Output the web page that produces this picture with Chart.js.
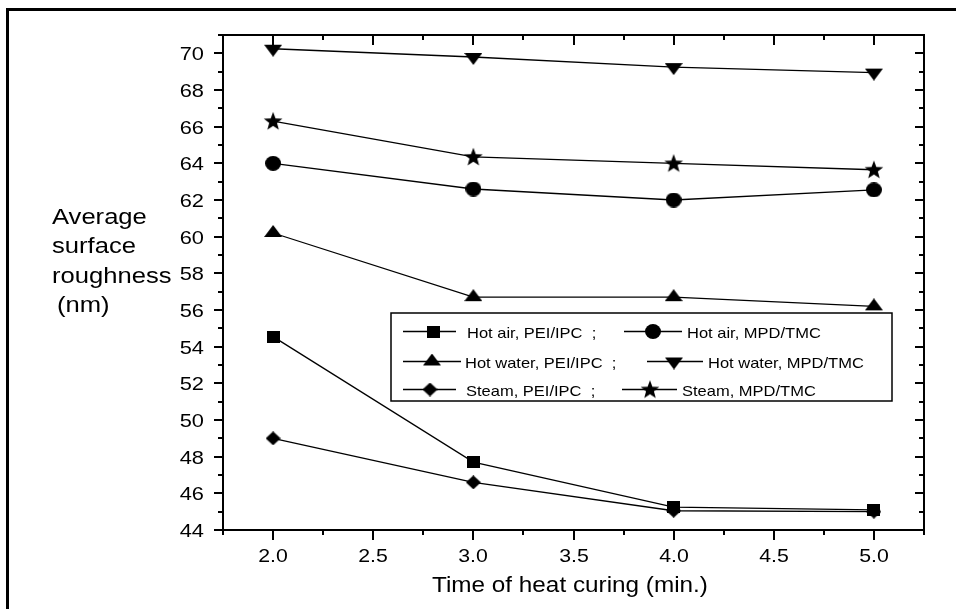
<!DOCTYPE html>
<html>
<head>
<meta charset="utf-8">
<title>Average surface roughness vs. time of heat curing</title>
<script src="https://cdn.jsdelivr.net/npm/chart.js@4.4.1/dist/chart.umd.min.js"></script>
<style>
  html, body { margin: 0; padding: 0; background: #fff; }
  canvas { display: block; }
</style>
</head>
<body>
<canvas id="roughnessChart" width="956" height="609"></canvas>
<script>
// curing time (min.) and roughness (nm) per membrane / curing method
const curingTimes = [2.0, 3.0, 4.0, 5.0];
const hotAirPEI = [54.55, 47.7, 45.25, 45.1];
const hotAirMPD = [64.0, 62.6, 62.0, 62.55];
const hotWaterPEI = [60.2, 56.7, 56.7, 56.2];
const hotWaterMPD = [70.25, 69.8, 69.25, 68.95];
const steamPEI = [49.0, 46.6, 45.05, 45.0];
const steamMPD = [66.3, 64.35, 64.0, 63.65];

const seriesNames = ['Hot air, PEI/IPC', 'Hot air, MPD/TMC', 'Hot water, PEI/IPC',
    'Hot water, MPD/TMC', 'Steam, PEI/IPC', 'Steam, MPD/TMC'];

const xTicks = [2.0, 2.5, 3.0, 3.5, 4.0, 4.5, 5.0];
const xMinorTicks = [1.75, 2.25, 2.75, 3.25, 3.75, 4.25, 4.75, 5.25];
const yTicks = [44, 46, 48, 50, 52, 54, 56, 58, 60, 62, 64, 66, 68, 70];
const yMinorTicks = [45, 47, 49, 51, 53, 55, 57, 59, 61, 63, 65, 67, 69, 71];

const xTitle = 'Time of heat curing (min.)';
const yTitleLines = ['Average', 'surface', 'roughness', '(nm)'];

const FONT = '"Liberation Sans", Arial, Helvetica, sans-serif';

// filled black symbols, centred on the data point
function makeMarker(shape) {
    const c = document.createElement('canvas');
    const sizes = {
        square: [13, 12], circle: [16, 15], triUp: [18, 16],
        triDown: [18, 16], diamond: [15, 14], star: [20, 20]
    };
    c.width = sizes[shape][0];
    c.height = sizes[shape][1];
    const g = c.getContext('2d');
    g.fillStyle = '#000';
    g.beginPath();
    if (shape === 'square') {
        g.rect(0, 0, 13, 12);
    } else if (shape === 'circle') {
        g.ellipse(8, 7.5, 8, 7.5, 0, 0, Math.PI * 2);
    } else if (shape === 'triUp') {
        // centroid sits at the canvas centre
        g.moveTo(0, 12); g.lineTo(9, 0); g.lineTo(18, 12);
    } else if (shape === 'triDown') {
        g.moveTo(0, 4); g.lineTo(18, 4); g.lineTo(9, 16);
    } else if (shape === 'diamond') {
        g.moveTo(7.5, 0); g.lineTo(15, 7); g.lineTo(7.5, 14); g.lineTo(0, 7);
    } else if (shape === 'star') {
        const R = 9.8, r = 4.1;
        for (let i = 0; i < 10; i++) {
            const rad = i % 2 === 0 ? R : r;
            const ang = -Math.PI / 2 + i * Math.PI / 5;
            const px = 10 + rad * Math.cos(ang);
            const py = 10.6 + rad * Math.sin(ang);
            if (i === 0) g.moveTo(px, py); else g.lineTo(px, py);
        }
    }
    g.closePath();
    g.fill();
    return c;
}

const markers = {};
['square', 'circle', 'triUp', 'triDown', 'diamond', 'star'].forEach(function (s) {
    markers[s] = makeMarker(s);
});

const seriesList = [
    { name: seriesNames[0], values: hotAirPEI, marker: 'square' },
    { name: seriesNames[1], values: hotAirMPD, marker: 'circle' },
    { name: seriesNames[2], values: hotWaterPEI, marker: 'triUp' },
    { name: seriesNames[3], values: hotWaterMPD, marker: 'triDown' },
    { name: seriesNames[4], values: steamPEI, marker: 'diamond' },
    { name: seriesNames[5], values: steamMPD, marker: 'star' }
];

// text is slightly wider than the font's own proportions
function stretchText(ctx, text, x, y, size, align, sx) {
    ctx.save();
    ctx.font = size + 'px ' + FONT;
    ctx.textAlign = align;
    ctx.textBaseline = 'alphabetic';
    ctx.fillStyle = '#000';
    ctx.translate(x, y);
    ctx.scale(sx, 1);
    ctx.fillText(text, 0, 0);
    ctx.restore();
}

function line(ctx, x0, y0, x1, y1) {
    ctx.beginPath();
    ctx.moveTo(x0, y0);
    ctx.lineTo(x1, y1);
    ctx.stroke();
}

const axesFrame = {
    id: 'axesFrame',
    afterDraw(chart) {
        const { ctx, chartArea: a, scales: { x, y } } = chart;
        ctx.save();
        ctx.strokeStyle = '#000';

        // outer figure frame
        ctx.lineWidth = 3;
        ctx.beginPath();
        ctx.moveTo(7.5, chart.height);
        ctx.lineTo(7.5, 9.5);
        ctx.lineTo(chart.width, 9.5);
        ctx.stroke();

        // axis box
        ctx.lineWidth = 2;
        ctx.strokeRect(a.left, a.top, a.right - a.left, a.bottom - a.top);

        // bottom ticks point out, top ticks point in
        xTicks.forEach(function (v) {
            const px = Math.round(x.getPixelForValue(v));
            line(ctx, px, a.bottom, px, a.bottom + 10);
            line(ctx, px, a.top, px, a.top + 10);
            stretchText(ctx, v.toFixed(1), px, a.bottom + 32, 18.5, 'center', 1.15);
        });
        xMinorTicks.forEach(function (v) {
            const px = Math.round(x.getPixelForValue(v));
            line(ctx, px, a.bottom, px, a.bottom + 5);
            line(ctx, px, a.top, px, a.top + 5);
        });

        // left ticks point out, right ticks point in
        yTicks.forEach(function (v) {
            const py = Math.round(y.getPixelForValue(v));
            line(ctx, a.left - 9, py, a.left, py);
            line(ctx, a.right - 9, py, a.right, py);
            stretchText(ctx, String(v), a.left - 19, py + 6.7, 18.5, 'right', 1.18);
        });
        yMinorTicks.forEach(function (v) {
            const py = Math.round(y.getPixelForValue(v));
            line(ctx, a.left - 5, py, a.left, py);
            line(ctx, a.right - 5, py, a.right, py);
        });

        // axis titles
        stretchText(ctx, xTitle, 432, 592, 21.5, 'left', 1.13);
        const titleX = [52, 52, 52, 57];
        const titleY = [223.5, 253, 282.5, 312];
        yTitleLines.forEach(function (t, i) {
            stretchText(ctx, t, titleX[i], titleY[i], 21.5, 'left', 1.19);
        });

        // legend box, two entries per row
        ctx.fillStyle = '#fff';
        ctx.fillRect(391, 313, 501, 88);
        ctx.lineWidth = 1.5;
        ctx.strokeRect(391, 313, 501, 88);
        const rows = [
            { y: 331.5, base: 337.5, items: [
                { s: 0, x0: 403, x1: 456, mx: 433, tx: 467 },
                { s: 1, x0: 624, x1: 682, mx: 653, tx: 687 }] },
            { y: 361.5, base: 367.5, items: [
                { s: 2, x0: 403, x1: 461, mx: 432, tx: 465 },
                { s: 3, x0: 647, x1: 703, mx: 674, tx: 708 }] },
            { y: 389.5, base: 395.5, items: [
                { s: 4, x0: 403, x1: 456, mx: 430, tx: 466 },
                { s: 5, x0: 622, x1: 677, mx: 650, tx: 682 }] }
        ];
        rows.forEach(function (row) {
            row.items.forEach(function (it, k) {
                const s = seriesList[it.s];
                const img = markers[s.marker];
                ctx.lineWidth = 1.3;
                line(ctx, it.x0, row.y, it.x1, row.y);
                ctx.drawImage(img, it.mx - img.width / 2, row.y - img.height / 2);
                const label = k === 0 ? s.name + '  ;' : s.name;
                stretchText(ctx, label, it.tx, row.base, 15, 'left', 1.1);
            });
        });

        ctx.restore();
    }
};

const chart = new Chart(document.getElementById('roughnessChart').getContext('2d'), {
    type: 'scatter',
    data: {
        datasets: seriesList.map(function (s) {
            return {
                label: s.name,
                data: curingTimes.map(function (t, i) { return { x: t, y: s.values[i] }; }),
                showLine: true,
                borderColor: '#000',
                borderWidth: 1.3,
                backgroundColor: '#000',
                pointStyle: markers[s.marker],
                pointRadius: 9,
                pointHoverRadius: 9,
                fill: false,
                tension: 0,
                clip: false
            };
        })
    },
    options: {
        responsive: false,
        animation: false,
        events: [],
        layout: { padding: { left: 223, top: 35, right: 32, bottom: 79 } },
        plugins: {
            legend: { display: false },
            tooltip: { enabled: false }
        },
        scales: {
            x: { type: 'linear', min: 1.75, max: 5.25, display: false },
            y: { type: 'linear', min: 44, max: 71, display: false }
        }
    },
    plugins: [axesFrame]
});
</script>
</body>
</html>
